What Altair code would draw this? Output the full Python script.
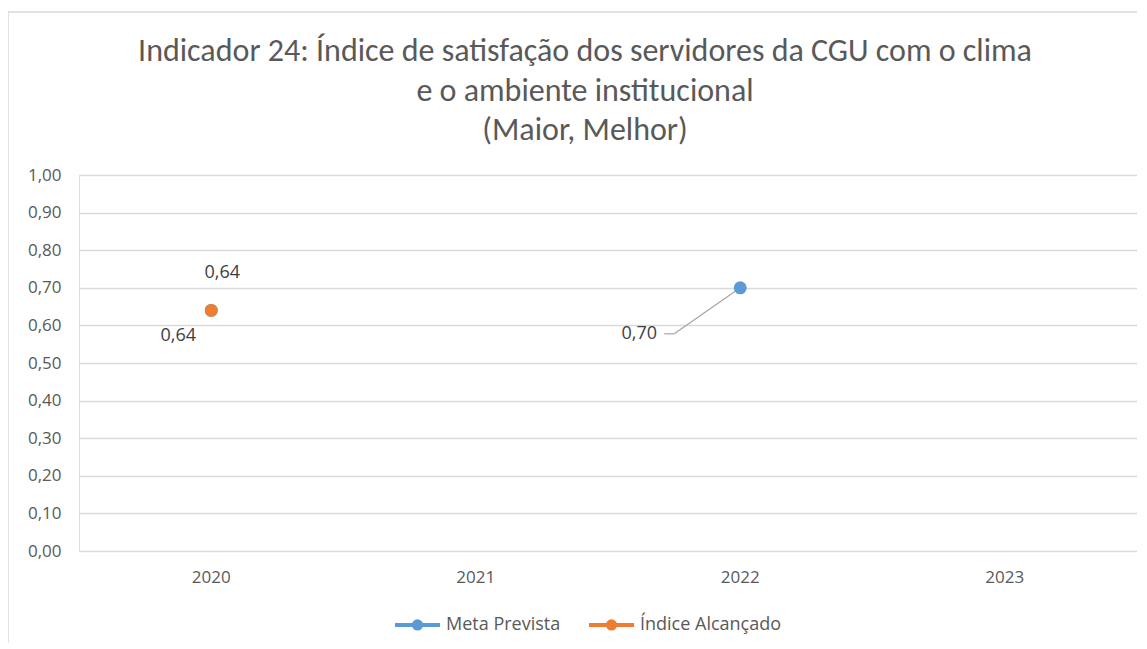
import altair as alt
import pandas as pd

years = ["2020", "2021", "2022", "2023"]
meta_prevista = [0.64, None, 0.70, None]
indice_alcancado = [0.64, None, None, None]
series_names = ["Meta Prevista", "Índice Alcançado"]
series_colors = ["#5B9BD5", "#ED7D31"]
title_lines = [
    "Indicador 24: Índice de satisfação dos servidores da CGU com o clima",
    "e o ambiente institucional",
    "(Maior, Melhor)",
]

rows = []
for name, vals in zip(series_names, [meta_prevista, indice_alcancado]):
    for y, v in zip(years, vals):
        if v is not None:
            rows.append({"ano": y, "valor": v, "serie": name})
df = pd.DataFrame(rows)

FONT = "Carlito, 'Liberation Sans Narrow', 'Open Sans', sans-serif"
AXFONT = "'Open Sans', sans-serif"

x_enc = alt.X("ano:O", scale=alt.Scale(type="band", domain=years, paddingInner=0, paddingOuter=0),
              axis=alt.Axis(title=None, labelAngle=0, ticks=False, domain=False, grid=False,
                            labelPadding=18, labelFontSize=17, labelColor="#595959", labelFont=AXFONT))
y_enc = alt.Y("valor:Q", scale=alt.Scale(domain=[0, 1], nice=False),
              axis=alt.Axis(title=None, values=[i / 10 for i in range(11)], ticks=False, domain=False,
                            gridColor="#d9d9d9", gridWidth=1.3, labelPadding=18, labelFontSize=17,
                            labelColor="#595959", labelFont=AXFONT,
                            labelExpr="replace(format(datum.value, '.2f'), '.', ',')"))

legend_symbol = "M-1,0 L1,0 M-0.16,0 A0.16,0.16 0 1,0 0.16,0 A0.16,0.16 0 1,0 -0.16,0 Z"

base = alt.Chart(df).transform_calculate(
    rotulo="replace(format(datum.valor, '.2f'), '.', ',')"
)

frame = alt.Chart(alt.Data(values=[{"a": 1}])).mark_rect(
    fill=None, stroke="#d9d9d9", strokeWidth=1.5
).encode(x=alt.value(-71), x2=alt.value(1300), y=alt.value(-163), y2=alt.value(700))

points = base.mark_point(filled=True, size=120, opacity=1).encode(
    x=x_enc, y=y_enc,
    color=alt.Color("serie:N", scale=alt.Scale(domain=series_names, range=series_colors),
                    sort=series_names,
                    legend=alt.Legend(title=None, orient="none", direction="horizontal",
                                      legendX=314, legendY=425,
                                      symbolType=legend_symbol, symbolSize=2025,
                                      symbolStrokeWidth=4, labelFontSize=18, labelColor="#595959",
                                      labelFont=AXFONT, labelOffset=4, columnPadding=20)),
    stroke=alt.Color("serie:N", scale=alt.Scale(domain=series_names, range=series_colors), legend=None),
    order=alt.Order("ord:Q"),
).transform_calculate(ord="datum.serie == 'Meta Prevista' ? 0 : 1")

meta = base.transform_filter("datum.serie == 'Meta Prevista'")
ind = base.transform_filter("datum.serie == 'Índice Alcançado'")

lbl_style = dict(fontSize=18, color="#404040", font=AXFONT)
lbl_meta_2020 = meta.transform_filter("datum.ano == '2020'").mark_text(dx=11, dy=-37, **lbl_style).encode(
    x=x_enc, y=y_enc, text="rotulo:N")
lbl_ind_2020 = ind.transform_filter("datum.ano == '2020'").mark_text(dx=-33, dy=26, **lbl_style).encode(
    x=x_enc, y=y_enc, text="rotulo:N")
lbl_meta_2022 = meta.transform_filter("datum.ano == '2022'").mark_text(dx=-101, dy=46, **lbl_style).encode(
    x=x_enc, y=y_enc, text="rotulo:N")
leader1 = meta.transform_filter("datum.ano == '2022'").mark_rule(
    color="#a6a6a6", strokeWidth=1.2, x2Offset=-66, y2Offset=46).encode(
    x=x_enc, y=y_enc, x2="ano:O", y2="valor:Q")
leader2 = meta.transform_filter("datum.ano == '2022'").mark_rule(
    color="#a6a6a6", strokeWidth=1.2, xOffset=-66, x2Offset=-76, yOffset=46, y2Offset=46).encode(
    x=x_enc, y=y_enc, x2="ano:O", y2="valor:Q")

chart = alt.layer(
    frame, leader1, leader2, points, lbl_meta_2020, lbl_ind_2020, lbl_meta_2022
).properties(
    width=1058, height=376,
    autosize=alt.AutoSizeParams(type="none"),
    padding={"left": 71, "top": 167, "right": 0, "bottom": 92},
    title=alt.TitleParams(text=title_lines, fontSize=32, lineHeight=39.5, color="#595959",
                          font=FONT, fontWeight="normal", anchor="middle", frame="group",
                          dx=-23, offset=-136),
).configure_view(stroke=None).configure(background="white")

chart.save("out.html", embed_options={"renderer": "svg", "actions": False})
